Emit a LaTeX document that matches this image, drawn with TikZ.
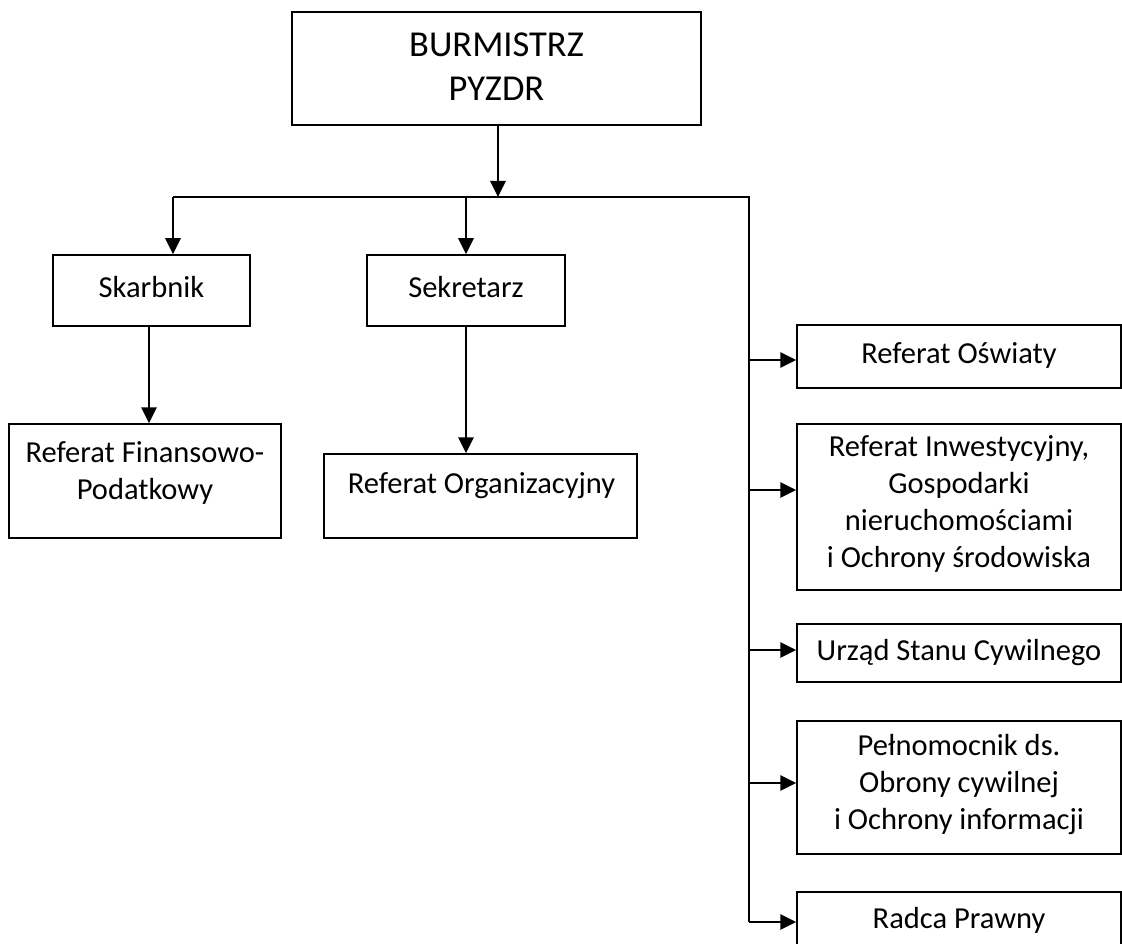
\documentclass[tikz,border=0pt]{standalone}
\usepackage{fontspec}
\setmainfont{Carlito}
\usetikzlibrary{arrows.meta}
\tikzset{
  box/.style={draw=black, line width=1.5pt, rectangle, inner sep=0pt, align=center,
    font=\fontsize{30.5}{37}\selectfont, execute at begin node=\strut, execute at end node=\strut},
  txt/.style={inner sep=0pt, align=center, font=\fontsize{30.5}{37}\selectfont,
    execute at begin node=\strut, execute at end node=\strut},
  bigtxt/.style={txt, font=\fontsize{36.5}{44.5}\selectfont},
  arr/.style={line width=2.7pt, -{Triangle[width=15pt,length=16pt]}},
  bus/.style={line width=2.5pt},
}
\begin{document}
\begin{tikzpicture}[x=1pt,y=-1pt]
\useasboundingbox (0,0) rectangle (1122,944);
% boxes
\node[box, minimum width=409pt, minimum height=113pt] (top) at (496.5,68.5) {};
\node[bigtxt] (toptxt) at (496.5,73.5) {BURMISTRZ\\PYZDR};
\node[box, minimum width=197pt, minimum height=71pt] (skar) at (151.5,290.5) {Skarbnik};
\node[box, minimum width=198pt, minimum height=71pt] (sek) at (466,290.5) {Sekretarz};
\node[box, minimum width=272pt, minimum height=114pt] (fin) at (145,481) {};
\node[txt] (fintxt) at (145,476) {Referat Finansowo-\\Podatkowy};
\node[box, minimum width=313pt, minimum height=84pt] (org) at (480.5,496) {};
\node[txt] (orgtxt) at (481.5,486.5) {Referat Organizacyjny};
\node[box, minimum width=324pt, minimum height=63pt] (osw) at (959,356.5) {Referat Oświaty};
\node[box, minimum width=324pt, minimum height=166pt] (inw) at (959,507) {Referat Inwestycyjny,\\Gospodarki\\nieruchomościami\\i Ochrony środowiska};
\node[box, minimum width=324pt, minimum height=58pt] (usc) at (959,653) {Urząd Stanu Cywilnego};
\node[box, minimum width=324pt, minimum height=133pt] (pel) at (959,787.5) {Pełnomocnik ds.\\Obrony cywilnej\\i Ochrony informacji};
\node[box, minimum width=324pt, minimum height=58pt] (rad) at (959,921) {Radca Prawny};
% bus coordinates
\coordinate (j) at (498,197);
\coordinate (bl) at (173,197);
\coordinate (br) at (749,197);
\coordinate (rb) at (749,922);
% connectors
\draw[arr] (top.south -| j) -- (j);
\draw[bus] (bl) -- (br) -- (rb);
\draw[arr] (bl) -- (bl |- skar.north);
\draw[arr] (sek.north |- bl) -- (sek.north);
\draw[arr] ([xshift=-2.5pt]skar.south) -- ([xshift=-2.5pt]fin.north -| skar.south);
\draw[arr] (sek.south) -- (org.north -| sek.south);
\draw[arr] (br |- 0,360) -- (osw.west |- 0,360);
\draw[arr] (br |- 0,490) -- (inw.west |- 0,490);
\draw[arr] (br |- 0,650) -- (usc.west |- 0,650);
\draw[arr] (br |- 0,783) -- (pel.west |- 0,783);
\draw[arr] (rb) -- (rad.west |- rb);
\end{tikzpicture}
\end{document}
